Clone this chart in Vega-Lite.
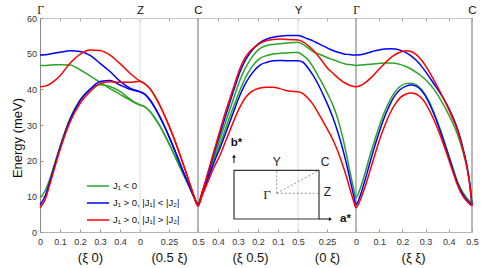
{
  "$schema": "https://vega.github.io/schema/vega-lite/v6.json",
  "width": 432,
  "height": 214,
  "autosize": {"type": "none"},
  "padding": {"left": 40, "top": 18, "right": 13, "bottom": 36},
  "background": "white",
  "config": {"font": "Liberation Sans", "view": {"stroke": null}},
  "resolve": {"axis": {"x": "independent", "y": "independent"}},
  "layer": [
    {
      "data": {"values": [{"u": 100}, {"u": 258}]},
      "mark": {"type": "rule", "color": "#dcdcdc", "strokeWidth": 1},
      "encoding": {
        "x": {"field": "u", "type": "quantitative", "scale": {"domain": [0, 432], "nice": false, "zero": false},
          "axis": {"orient": "top", "title": null, "grid": false,
            "values": [0,20,40,60,80,100,129,158,178,198,218,238,258,287,316,339.2,362.4,385.6,408.8,432],
            "labelExpr": "datum.value == 0 || datum.value == 316 ? 'Γ' : datum.value == 100 ? 'Z' : (datum.value == 158 || datum.value == 432) ? 'C' : datum.value == 258 ? 'Y' : ''",
            "labelFont": {"condition": {"test": "datum.value == 0 || datum.value == 316", "value": "Liberation Serif"}, "value": "Liberation Sans"},
            "domainColor": "#c8c8c8", "tickColor": "#aaaaaa", "tickSize": -3,
            "labelFontSize": 11.5, "labelColor": "#111111", "labelPadding": 6,
            "labelFlush": false, "labelOverlap": false}}
      }
    },
    {
      "data": {"values": [{"u": 158}, {"u": 316}, {"u": 432}]},
      "mark": {"type": "rule", "color": "#a0a0a0", "strokeWidth": 1.5},
      "encoding": {
        "x": {"field": "u", "type": "quantitative", "scale": {"domain": [0, 432], "nice": false, "zero": false},
          "axis": {"orient": "bottom", "title": null, "grid": false, "ticks": false, "domain": false,
            "values": [50, 129, 210, 287, 373],
            "labelExpr": "datum.value == 50 ? '(ξ 0)' : datum.value == 129 ? '(0.5 ξ)' : datum.value == 210 ? '(ξ 0.5)' : datum.value == 287 ? '(0 ξ)' : '(ξ ξ)'",
            "labelFontSize": 13, "labelColor": "#111111", "labelPadding": 0, "offset": 19,
            "labelFlush": false, "labelOverlap": false}}
      }
    },
    {
      "data": {"values": [
        {"u": 0, "a1": 46.7, "a2": 9.6, "b1": 49.6, "b2": 7.6, "c1": 40.7, "c2": 6.8},
        {"u": 5, "a1": 46.7, "a2": 11.5, "b1": 49.7, "b2": 10.0, "c1": 40.9, "c2": 9.0},
        {"u": 10, "a1": 46.8, "a2": 15.0, "b1": 49.9, "b2": 14.3, "c1": 41.5, "c2": 13.5},
        {"u": 15, "a1": 46.9, "a2": 19.5, "b1": 50.2, "b2": 19.0, "c1": 42.5, "c2": 18.3},
        {"u": 20, "a1": 46.9, "a2": 24.0, "b1": 50.4, "b2": 23.6, "c1": 43.8, "c2": 23.0},
        {"u": 30, "a1": 46.8, "a2": 31.8, "b1": 50.8, "b2": 31.5, "c1": 47.3, "c2": 30.8},
        {"u": 40, "a1": 45.5, "a2": 37.0, "b1": 50.6, "b2": 36.8, "c1": 49.8, "c2": 36.0},
        {"u": 50, "a1": 43.8, "a2": 40.0, "b1": 49.5, "b2": 40.0, "c1": 51.0, "c2": 39.3},
        {"u": 60, "a1": 42.0, "a2": 41.3, "b1": 47.3, "b2": 42.2, "c1": 50.9, "c2": 41.6},
        {"u": 70, "a1": 40.2, "a2": 40.8, "b1": 45.0, "b2": 42.5, "c1": 49.6, "c2": 42.1},
        {"u": 80, "a1": 38.6, "a2": 39.4, "b1": 42.3, "b2": 41.2, "c1": 47.2, "c2": 42.0},
        {"u": 90, "a1": 37.0, "a2": 37.3, "b1": 40.3, "b2": 40.0, "c1": 44.5, "c2": 42.0},
        {"u": 100, "a1": 35.6, "a2": 35.6, "b1": 39.3, "b2": 39.3, "c1": 42.3, "c2": 42.3},
        {"u": 105, "a1": 35.1, "a2": 35.1, "b1": 38.6, "b2": 38.6, "c1": 41.5, "c2": 41.5},
        {"u": 110, "a1": 33.8, "a2": 33.8, "b1": 37.0, "b2": 37.0, "c1": 40.2, "c2": 40.2},
        {"u": 115, "a1": 31.9, "a2": 31.9, "b1": 34.8, "b2": 34.8, "c1": 38.0, "c2": 38.0},
        {"u": 120, "a1": 29.7, "a2": 29.7, "b1": 32.2, "b2": 32.2, "c1": 35.4, "c2": 35.4},
        {"u": 125, "a1": 27.0, "a2": 27.0, "b1": 29.3, "b2": 29.3, "c1": 32.4, "c2": 32.4},
        {"u": 130, "a1": 24.2, "a2": 24.2, "b1": 26.1, "b2": 26.1, "c1": 29.1, "c2": 29.1},
        {"u": 135, "a1": 21.2, "a2": 21.2, "b1": 22.7, "b2": 22.7, "c1": 25.5, "c2": 25.5},
        {"u": 140, "a1": 18.2, "a2": 18.2, "b1": 19.2, "b2": 19.2, "c1": 21.6, "c2": 21.6},
        {"u": 145, "a1": 15.2, "a2": 15.2, "b1": 15.7, "b2": 15.7, "c1": 17.6, "c2": 17.6},
        {"u": 150, "a1": 12.3, "a2": 12.3, "b1": 12.4, "b2": 12.4, "c1": 13.4, "c2": 13.4},
        {"u": 154, "a1": 9.9, "a2": 9.9, "b1": 9.8, "b2": 9.8, "c1": 10.0, "c2": 10.0},
        {"u": 158, "a1": 8.0, "a2": 8.0, "b1": 7.6, "b2": 7.6, "c1": 7.3, "c2": 7.3},
        {"u": 162, "a1": 11.0, "a2": 10.8, "b1": 10.8, "b2": 10.4, "c1": 11.0, "c2": 10.0},
        {"u": 166, "a1": 14.2, "a2": 13.9, "b1": 14.5, "b2": 13.5, "c1": 14.8, "c2": 12.8},
        {"u": 170, "a1": 17.5, "a2": 17.0, "b1": 18.2, "b2": 16.5, "c1": 18.8, "c2": 15.5},
        {"u": 175, "a1": 21.8, "a2": 20.9, "b1": 23.0, "b2": 20.2, "c1": 23.7, "c2": 18.7},
        {"u": 180, "a1": 26.0, "a2": 24.5, "b1": 27.5, "b2": 23.5, "c1": 28.5, "c2": 21.5},
        {"u": 185, "a1": 30.3, "a2": 28.5, "b1": 32.0, "b2": 27.2, "c1": 33.2, "c2": 25.0},
        {"u": 190, "a1": 34.5, "a2": 32.5, "b1": 36.5, "b2": 31.0, "c1": 37.5, "c2": 28.5},
        {"u": 195, "a1": 38.6, "a2": 36.2, "b1": 40.8, "b2": 34.8, "c1": 41.8, "c2": 32.0},
        {"u": 200, "a1": 42.6, "a2": 39.8, "b1": 44.9, "b2": 38.4, "c1": 45.9, "c2": 35.1},
        {"u": 205, "a1": 45.8, "a2": 43.0, "b1": 48.0, "b2": 41.4, "c1": 48.8, "c2": 37.5},
        {"u": 210, "a1": 48.2, "a2": 45.5, "b1": 50.2, "b2": 43.7, "c1": 50.7, "c2": 39.0},
        {"u": 215, "a1": 50.1, "a2": 47.4, "b1": 51.9, "b2": 45.5, "c1": 51.9, "c2": 39.9},
        {"u": 220, "a1": 51.5, "a2": 48.7, "b1": 53.1, "b2": 46.8, "c1": 52.9, "c2": 40.4},
        {"u": 227, "a1": 52.3, "a2": 49.5, "b1": 54.1, "b2": 47.6, "c1": 53.7, "c2": 40.6},
        {"u": 233, "a1": 52.6, "a2": 49.9, "b1": 54.6, "b2": 48.0, "c1": 54.0, "c2": 40.6},
        {"u": 240, "a1": 52.8, "a2": 50.1, "b1": 54.9, "b2": 48.1, "c1": 54.1, "c2": 40.2},
        {"u": 247, "a1": 53.0, "a2": 50.2, "b1": 55.1, "b2": 48.0, "c1": 54.0, "c2": 39.6},
        {"u": 253, "a1": 53.1, "a2": 50.3, "b1": 55.1, "b2": 48.0, "c1": 53.9, "c2": 39.4},
        {"u": 258, "a1": 53.2, "a2": 50.3, "b1": 55.1, "b2": 48.0, "c1": 53.8, "c2": 39.3},
        {"u": 263, "a1": 52.6, "a2": 49.5, "b1": 54.7, "b2": 47.6, "c1": 53.3, "c2": 38.8},
        {"u": 268, "a1": 51.6, "a2": 48.3, "b1": 54.1, "b2": 46.0, "c1": 52.3, "c2": 37.5},
        {"u": 273, "a1": 50.6, "a2": 46.3, "b1": 53.6, "b2": 44.0, "c1": 51.0, "c2": 35.8},
        {"u": 278, "a1": 50.0, "a2": 43.8, "b1": 52.9, "b2": 41.5, "c1": 49.4, "c2": 33.5},
        {"u": 283, "a1": 49.4, "a2": 41.3, "b1": 52.2, "b2": 38.6, "c1": 47.6, "c2": 31.0},
        {"u": 288, "a1": 48.8, "a2": 38.5, "b1": 51.5, "b2": 35.5, "c1": 45.8, "c2": 28.5},
        {"u": 293, "a1": 48.3, "a2": 35.5, "b1": 50.9, "b2": 32.0, "c1": 44.5, "c2": 25.8},
        {"u": 298, "a1": 47.8, "a2": 31.5, "b1": 50.4, "b2": 27.8, "c1": 43.2, "c2": 22.5},
        {"u": 303, "a1": 47.3, "a2": 26.2, "b1": 50.0, "b2": 23.0, "c1": 42.1, "c2": 18.5},
        {"u": 307, "a1": 47.0, "a2": 21.0, "b1": 49.8, "b2": 18.5, "c1": 41.5, "c2": 15.0},
        {"u": 311, "a1": 46.9, "a2": 15.5, "b1": 49.7, "b2": 13.5, "c1": 41.0, "c2": 11.0},
        {"u": 314, "a1": 46.8, "a2": 11.8, "b1": 49.6, "b2": 9.8, "c1": 40.8, "c2": 8.3},
        {"u": 316, "a1": 46.7, "a2": 9.6, "b1": 49.6, "b2": 7.6, "c1": 40.7, "c2": 6.8},
        {"u": 320, "a1": 46.8, "a2": 12.0, "b1": 49.7, "b2": 10.0, "c1": 41.0, "c2": 8.8},
        {"u": 325, "a1": 46.9, "a2": 16.5, "b1": 50.0, "b2": 14.5, "c1": 41.8, "c2": 12.6},
        {"u": 330, "a1": 47.0, "a2": 21.5, "b1": 50.4, "b2": 19.5, "c1": 43.0, "c2": 17.2},
        {"u": 335, "a1": 47.2, "a2": 26.0, "b1": 50.8, "b2": 24.3, "c1": 44.4, "c2": 21.8},
        {"u": 340, "a1": 47.3, "a2": 30.3, "b1": 51.1, "b2": 28.7, "c1": 45.9, "c2": 26.2},
        {"u": 345, "a1": 47.4, "a2": 34.0, "b1": 51.3, "b2": 32.6, "c1": 47.4, "c2": 30.0},
        {"u": 350, "a1": 47.4, "a2": 37.0, "b1": 51.4, "b2": 35.8, "c1": 48.7, "c2": 33.3},
        {"u": 355, "a1": 47.3, "a2": 39.3, "b1": 51.3, "b2": 38.3, "c1": 49.7, "c2": 35.8},
        {"u": 360, "a1": 47.0, "a2": 40.8, "b1": 51.0, "b2": 39.9, "c1": 50.4, "c2": 37.6},
        {"u": 366, "a1": 46.4, "a2": 41.6, "b1": 50.3, "b2": 40.9, "c1": 50.8, "c2": 38.7},
        {"u": 371, "a1": 45.7, "a2": 41.7, "b1": 49.4, "b2": 41.2, "c1": 50.6, "c2": 39.0},
        {"u": 376, "a1": 44.8, "a2": 41.3, "b1": 48.2, "b2": 40.9, "c1": 49.8, "c2": 38.7},
        {"u": 382, "a1": 43.6, "a2": 39.8, "b1": 46.3, "b2": 39.5, "c1": 48.0, "c2": 37.4},
        {"u": 388, "a1": 42.0, "a2": 37.2, "b1": 44.0, "b2": 36.8, "c1": 45.5, "c2": 34.9},
        {"u": 394, "a1": 40.0, "a2": 33.5, "b1": 41.5, "b2": 33.0, "c1": 42.5, "c2": 31.4},
        {"u": 400, "a1": 37.4, "a2": 29.0, "b1": 39.0, "b2": 28.5, "c1": 39.4, "c2": 27.3},
        {"u": 406, "a1": 34.4, "a2": 24.0, "b1": 36.2, "b2": 23.5, "c1": 36.0, "c2": 22.6},
        {"u": 412, "a1": 31.0, "a2": 18.8, "b1": 32.8, "b2": 18.3, "c1": 32.3, "c2": 17.6},
        {"u": 418, "a1": 27.0, "a2": 13.8, "b1": 28.5, "b2": 13.3, "c1": 28.0, "c2": 12.8},
        {"u": 423, "a1": 22.5, "a2": 11.0, "b1": 23.5, "b2": 10.5, "c1": 23.0, "c2": 10.0},
        {"u": 427, "a1": 18.0, "a2": 9.5, "b1": 18.5, "b2": 9.0, "c1": 18.0, "c2": 8.6},
        {"u": 430, "a1": 13.0, "a2": 8.6, "b1": 13.0, "b2": 8.1, "c1": 12.8, "c2": 7.7},
        {"u": 432, "a1": 8.0, "a2": 8.0, "b1": 7.6, "b2": 7.6, "c1": 7.3, "c2": 7.3}
      ]},
      "transform": [{"fold": ["a1", "a2", "b1", "b2", "c1", "c2"], "as": ["k", "e"]}],
      "mark": {"type": "line", "interpolate": "monotone", "strokeWidth": 1.5},
      "encoding": {
        "x": {"field": "u", "type": "quantitative", "scale": {"domain": [0, 432], "nice": false, "zero": false},
          "axis": {"orient": "bottom", "title": null, "grid": false,
            "values": [0,20,40,60,80,100,129,158,178,198,218,238,258,287,316,339.2,362.4,385.6,408.8,432],
            "labelExpr": "['0','0.1','0.2','0.3','0.4','0','0.25','0.5','0.4','0.3','0.2','0.1','0.5','0.25','0','0.1','0.2','0.3','0.4','0.5'][indexof([0,20,40,60,80,100,129,158,178,198,218,238,258,287,316,339.2,362.4,385.6,408.8,432], datum.value)]",
            "domainColor": "#b4b4b4", "tickColor": "#999999", "tickSize": -3,
            "labelFontSize": 9, "labelColor": "#333333", "labelPadding": 8,
            "labelFlush": false, "labelOverlap": false}},
        "y": {"field": "e", "type": "quantitative", "scale": {"domain": [0, 60], "nice": false, "zero": false},
          "axis": {"orient": "left", "values": [0, 10, 20, 30, 40, 50, 60], "title": "Energy (meV)", "grid": false,
            "titleFontSize": 13, "titleFontWeight": "normal", "titleColor": "#111111",
            "titleX": -23, "titleY": 119.5, "titleBaseline": "middle", "titleAlign": "center",
            "domainColor": "#888888", "tickColor": "#999999", "tickSize": -3,
            "labelFontSize": 9, "labelColor": "#333333", "labelPadding": 6.5}},
        "color": {"field": "k", "type": "nominal",
          "scale": {"domain": ["a1", "a2", "b1", "b2", "c1", "c2"], "range": ["#28a428", "#28a428", "#0000ff", "#0000ff", "#ff0000", "#ff0000"]},
          "legend": {"orient": "none", "legendX": 46, "legendY": 156, "title": null, "values": ["a1", "b1", "c1"],
            "labelExpr": "datum.label == 'a1' ? 'J₁ < 0' : datum.label == 'b1' ? 'J₁ > 0, |J₁| < |J₂|' : 'J₁ > 0, |J₁| > |J₂|'",
            "symbolType": "stroke", "symbolSize": 484, "symbolStrokeWidth": 1.5,
            "labelFontSize": 9.5, "labelColor": "#111111", "rowPadding": -5, "labelOffset": 3, "padding": 0}}
      }
    },
    {
      "data": {"values": [{"x": 194, "x2": 279, "y": 3.64, "y2": 17.3}]},
      "mark": {"type": "rect", "filled": false, "color": "#333333", "strokeWidth": 1.2},
      "encoding": {
        "x": {"field": "x", "type": "quantitative", "scale": {"domain": [0, 432], "nice": false, "zero": false}, "axis": null},
        "x2": {"field": "x2"},
        "y": {"field": "y", "type": "quantitative", "scale": {"domain": [0, 60], "nice": false, "zero": false}, "axis": null},
        "y2": {"field": "y2"}
      }
    },
    {
      "data": {"values": [
        {"x": 236.7, "y": 10.85, "x2": 236.7, "y2": 17.3},
        {"x": 236.7, "y": 10.85, "x2": 279, "y2": 10.85},
        {"x": 236.7, "y": 10.85, "x2": 279, "y2": 17.3}
      ]},
      "mark": {"type": "rule", "strokeDash": [2, 2], "color": "#777777", "strokeWidth": 0.8},
      "encoding": {
        "x": {"field": "x", "type": "quantitative", "scale": {"domain": [0, 432], "nice": false, "zero": false}, "axis": null},
        "x2": {"field": "x2"},
        "y": {"field": "y", "type": "quantitative", "scale": {"domain": [0, 60], "nice": false, "zero": false}, "axis": null},
        "y2": {"field": "y2"}
      }
    },
    {
      "data": {"values": [
        {"x": 194, "y": 19.3, "x2": 194, "y2": 21.0},
        {"x": 279, "y": 3.64, "x2": 289, "y2": 3.64}
      ]},
      "mark": {"type": "rule", "color": "#111111", "strokeWidth": 1},
      "encoding": {
        "x": {"field": "x", "type": "quantitative", "scale": {"domain": [0, 432], "nice": false, "zero": false}, "axis": null},
        "x2": {"field": "x2"},
        "y": {"field": "y", "type": "quantitative", "scale": {"domain": [0, 60], "nice": false, "zero": false}, "axis": null},
        "y2": {"field": "y2"}
      }
    },
    {
      "data": {"values": [{"x": 194, "y": 21.3, "d": "up"}, {"x": 290.5, "y": 3.64, "d": "right"}]},
      "mark": {"type": "point", "filled": true, "color": "#111111", "size": 14, "opacity": 1},
      "encoding": {
        "x": {"field": "x", "type": "quantitative", "scale": {"domain": [0, 432], "nice": false, "zero": false}, "axis": null},
        "y": {"field": "y", "type": "quantitative", "scale": {"domain": [0, 60], "nice": false, "zero": false}, "axis": null},
        "shape": {"field": "d", "type": "nominal", "scale": {"domain": ["up", "right"], "range": ["triangle-up", "triangle-right"]}, "legend": null}
      }
    },
    {
      "data": {"values": [{"x": 236.7, "y": 19.6, "t": "Y"}, {"x": 285, "y": 19.6, "t": "C"}, {"x": 287.5, "y": 11.1, "t": "Z"}]},
      "mark": {"type": "text", "fontSize": 12, "color": "#222222", "align": "center", "baseline": "middle"},
      "encoding": {
        "x": {"field": "x", "type": "quantitative", "scale": {"domain": [0, 432], "nice": false, "zero": false}, "axis": null},
        "y": {"field": "y", "type": "quantitative", "scale": {"domain": [0, 60], "nice": false, "zero": false}, "axis": null},
        "text": {"field": "t"}
      }
    },
    {
      "data": {"values": [{"x": 227, "y": 10.5, "t": "Γ"}]},
      "mark": {"type": "text", "fontSize": 13, "font": "Liberation Serif", "color": "#222222", "align": "center", "baseline": "middle"},
      "encoding": {
        "x": {"field": "x", "type": "quantitative", "scale": {"domain": [0, 432], "nice": false, "zero": false}, "axis": null},
        "y": {"field": "y", "type": "quantitative", "scale": {"domain": [0, 60], "nice": false, "zero": false}, "axis": null},
        "text": {"field": "t"}
      }
    },
    {
      "data": {"values": [{"x": 196.5, "y": 25, "t": "b*"}, {"x": 305.5, "y": 3.6, "t": "a*"}]},
      "mark": {"type": "text", "fontSize": 11.5, "fontWeight": "bold", "color": "#111111", "align": "center", "baseline": "middle"},
      "encoding": {
        "x": {"field": "x", "type": "quantitative", "scale": {"domain": [0, 432], "nice": false, "zero": false}, "axis": null},
        "y": {"field": "y", "type": "quantitative", "scale": {"domain": [0, 60], "nice": false, "zero": false}, "axis": null},
        "text": {"field": "t"}
      }
    }
  ]
}
